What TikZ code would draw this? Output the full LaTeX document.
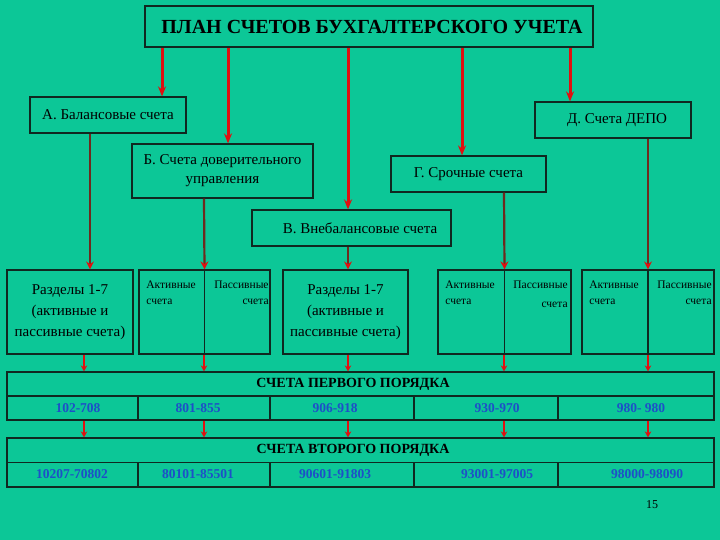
\documentclass[tikz,border=0pt]{standalone}
\usepackage{fontspec}
\setmainfont{Liberation Serif}
\usepackage{tikz}
\usetikzlibrary{calc,arrows.meta,positioning}
\definecolor{pl-bg}{HTML}{0CC797}
\definecolor{pl-red}{HTML}{E01010}
\definecolor{pl-dark}{HTML}{6E2A1E}
\definecolor{pl-blue}{HTML}{1E4FC8}
\definecolor{pl-line}{HTML}{102820}

\begin{document}
\begin{tikzpicture}[x=1pt, y=-1pt, thick, >=stealth,
    box/.style={draw=pl-line, line width=1.2pt, inner sep=0pt, align=center,
      font=\fontsize{15}{19}\selectfont},
    smalltxt/.style={inner sep=0pt, align=left, font=\fontsize{11.5}{16}\selectfont},
    bigarrow/.style={draw=pl-red, line width=3pt, -{Stealth[length=10pt,width=8pt]}},
    midarrow/.style={draw=pl-dark, line width=2.2pt, -{Stealth[pl-red,length=8pt,width=8pt]}},
    smallarrow/.style={draw=pl-red, line width=2.5pt, -{Stealth[length=6pt,width=6.5pt]}},
    num/.style={inner sep=0pt, text=pl-blue, font=\fontsize{13.5}{14}\selectfont\bfseries},
    head/.style={inner sep=0pt, font=\fontsize{14}{14}\selectfont\bfseries}]
    \fill[pl-bg] (0,0) rectangle (720,540);

    % top level
    \node[box, line width=2.5pt, minimum width=448pt, minimum height=41pt,
      font=\fontsize{20}{21}\selectfont\bfseries] (title) at (369,26.5)
      {\hspace*{6pt}ПЛАН СЧЕТОВ БУХГАЛТЕРСКОГО УЧЕТА};
    \node[box, minimum width=156pt, minimum height=36pt] (A) at (108,115) {А. Балансовые счета};
    \node[box, minimum width=156pt, minimum height=36pt] (D) at (613,120) {\hspace*{8pt}Д. Счета ДЕПО};
    \node[box, minimum width=181pt, minimum height=54pt] (B) at (222.5,171)
      {Б. Счета доверительного\\управления};
    \node[box, minimum width=155pt, minimum height=36pt] (G) at (468.5,174) {Г. Срочные счета};
    \node[box, minimum width=199pt, minimum height=36pt] (V) at (351.5,228)
      {\hspace*{17pt}В. Внебалансовые счета};
    \draw[bigarrow] (title.south -| 162,0) -- (A.north -| 162,0);
    \draw[bigarrow] (title.south -| 228,0) -- (B.north -| 228,0);
    \draw[bigarrow] (title.south -| 348,0) -- (V.north -| 348,0);
    \draw[bigarrow] (title.south -| 462,0) -- (G.north -| 462,0);
    \draw[bigarrow] (title.south -| 570,0) -- (D.north -| 570,0);

    % second level
    \node[box, minimum width=126pt, minimum height=84pt, font=\fontsize{15}{21}\selectfont] (r1) at (70,312)
      {Разделы 1-7\\(активные и\\пассивные счета)};
    \node[box, minimum width=131pt, minimum height=84pt] (r2) at (204.5,312) {};
    \node[box, minimum width=125pt, minimum height=84pt, font=\fontsize{15}{21}\selectfont] (r3) at (345.5,312)
      {Разделы 1-7\\(активные и\\пассивные счета)};
    \node[box, minimum width=133pt, minimum height=84pt] (r4) at (504.5,312) {};
    \node[box, minimum width=132pt, minimum height=84pt] (r5) at (648,312) {};
    \foreach \r in {r2,r4,r5}
      \draw[draw=pl-line, line width=1.2pt] (\r.north) -- (\r.south);
    \node[smalltxt, anchor=north west] (a2) at (146,281) {Активные\\счета};
    \node[smalltxt, anchor=north east, align=right] (p2) at (269,281) {Пассивные\\счета};
    \node[smalltxt, anchor=north west] (a4) at (445,281) {Активные\\счета};
    \node[smalltxt, anchor=north east, align=right, font=\fontsize{11.5}{19}\selectfont] (p4) at (568,281) {Пассивные\\счета};
    \node[smalltxt, anchor=north west] (a5) at (589,281) {Активные\\счета};
    \node[smalltxt, anchor=north east, align=right] (p5) at (712,281) {Пассивные\\счета};
    \draw[midarrow] (A.south -| 90,0) -- (r1.north -| 90,0);
    \draw[midarrow] (B.south -| 204,0) -- (r2.north);
    \draw[midarrow] (V.south -| 348,0) -- (r3.north -| 348,0);
    \draw[midarrow] (G.south -| 504,0) -- (r4.north);
    \draw[midarrow] (D.south -| 648,0) -- (r5.north);

    % tables
    \node[box, minimum width=707pt, minimum height=48pt] (t1) at (360.5,396) {};
    \node[box, minimum width=707pt, minimum height=49pt] (t2) at (360.5,462.5) {};
    \foreach \t in {t1,t2} {
      \draw[draw=pl-line, line width=1.2pt] (\t.west) -- (\t.east);
      \foreach \cx in {138,270,414,558}
        \draw[draw=pl-line, line width=1.2pt] (\t.center -| \cx,0) -- (\t.south -| \cx,0);
    }
    \node[head] (h1) at (353,384) {СЧЕТА ПЕРВОГО ПОРЯДКА};
    \node[head] (h2) at (353,450) {СЧЕТА ВТОРОГО ПОРЯДКА};
    \node[num] (n11) at (78,408) {102-708};
    \node[num] (n12) at (198,408) {801-855};
    \node[num] (n13) at (335,408) {906-918};
    \node[num] (n14) at (497,408) {930-970};
    \node[num] (n15) at (641,408) {980- 980};
    \node[num] (n21) at (72,474) {10207-70802};
    \node[num] (n22) at (198,474) {80101-85501};
    \node[num] (n23) at (335,474) {90601-91803};
    \node[num] (n24) at (497,474) {93001-97005};
    \node[num] (n25) at (647,474) {98000-98090};
    \foreach \r/\cx in {r1/84,r2/204,r3/348,r4/504,r5/648} {
      \draw[smallarrow] (\r.south -| \cx,0) -- (t1.north -| \cx,0);
      \draw[smallarrow] (t1.south -| \cx,0) -- (t2.north -| \cx,0);
    }

    \node[inner sep=0pt, font=\fontsize{12}{12}\selectfont] (page) at (652,505) {15};
\end{tikzpicture}
\end{document}
